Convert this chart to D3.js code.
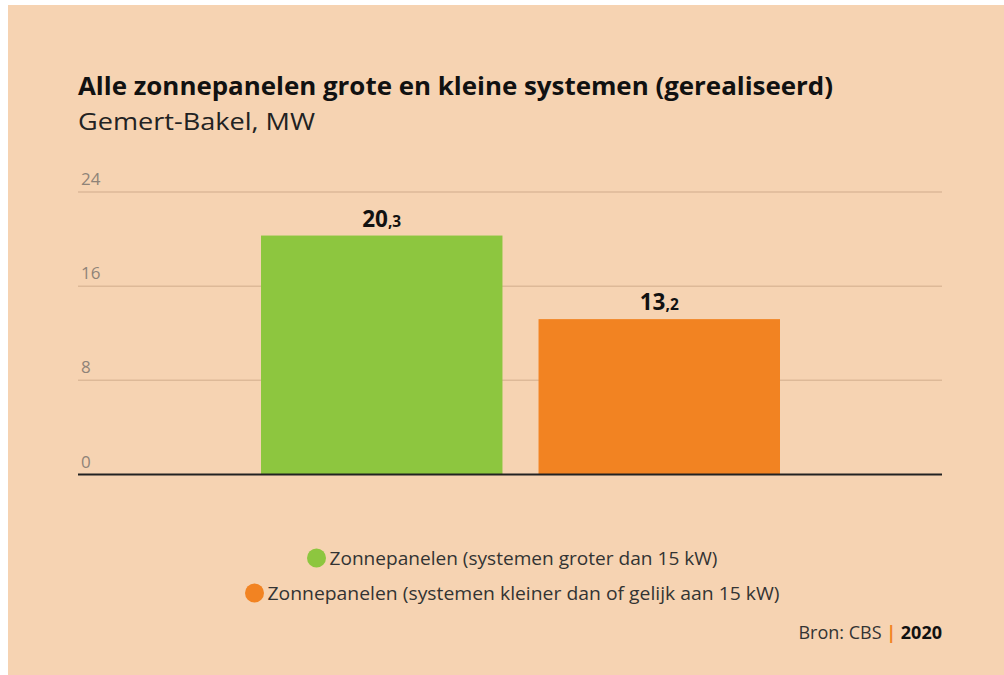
<!DOCTYPE html>
<html><head><meta charset="utf-8">
<script src="https://cdn.jsdelivr.net/npm/d3@7"></script>
<style>
html,body{margin:0;padding:0;background:#fff;}
svg{display:block;font-family:"Open Sans","Noto Sans",sans-serif;}
</style></head>
<body>
<svg id="chart" width="1004" height="675"></svg>
<script>
const categories = ["Zonnepanelen (systemen groter dan 15 kW)", "Zonnepanelen (systemen kleiner dan of gelijk aan 15 kW)"];
const values = [20.3, 13.2];
const colors = ["#8DC63F", "#F28322"];
const yTicks = [0, 8, 16, 24];
const title = "Alle zonnepanelen grote en kleine systemen (gerealiseerd)";
const subtitle = "Gemert-Bakel, MW";
const source = "Bron: CBS";
const year = "2020";

const svg = d3.select("#chart");
svg.append("rect").attr("x", 8).attr("y", 5).attr("width", 996).attr("height", 670).attr("fill", "#F6D3B2");

function fit(sel, w) {
  const cur = sel.node().getComputedTextLength();
  if (Math.abs(cur - w) > 1) sel.attr("textLength", w).attr("lengthAdjust", "spacingAndGlyphs");
  return sel;
}

fit(svg.append("text").attr("x", 78).attr("y", 95).attr("font-size", 25).attr("font-weight", 700)
  .attr("fill", "#111").text(title), 755);
fit(svg.append("text").attr("x", 78).attr("y", 130).attr("font-size", 23).attr("fill", "#222").text(subtitle), 237);

const left = 78, right = 942;
const y = d3.scaleLinear().domain([0, 24]).range([474.5, 192]);
const x = d3.scaleBand().domain(categories).range([261, 780]).paddingInner(0.13).paddingOuter(0);

const grid = svg.append("g");
grid.selectAll("line").data(yTicks.filter(d => d !== 0)).join("line")
  .attr("x1", left).attr("x2", right).attr("y1", d => y(d)).attr("y2", d => y(d))
  .attr("stroke", "#DDB998").attr("stroke-width", 1.5);
grid.selectAll("text").data(yTicks).join("text")
  .attr("x", 81).attr("y", d => y(d) - 7).attr("font-size", 17).attr("fill", "#8f8378").text(d => d);

svg.append("g").selectAll("rect").data(values).join("rect")
  .attr("x", (d, i) => x(categories[i])).attr("width", x.bandwidth())
  .attr("y", d => y(d)).attr("height", d => y(0) - y(d))
  .attr("fill", (d, i) => colors[i]);

svg.append("line").attr("x1", left).attr("x2", right).attr("y1", y(0)).attr("y2", y(0))
  .attr("stroke", "#222").attr("stroke-width", 2);

const lab = svg.append("g").selectAll("text").data(values).join("text")
  .attr("x", (d, i) => x(categories[i]) + x.bandwidth() / 2).attr("y", d => y(d) - 9)
  .attr("text-anchor", "middle").attr("font-weight", 700).attr("fill", "#111");
lab.append("tspan").attr("font-size", 22.5).text(d => Math.floor(d));
lab.append("tspan").attr("font-size", 15.5).text(d => "," + Math.round((d % 1) * 10));

const legend = svg.append("g");
const ly = [558, 593];
const lw = [388, 512];
categories.forEach((c, i) => {
  const g = legend.append("g");
  const t = g.append("text").attr("y", ly[i] + 7).attr("font-size", 19).attr("fill", "#333").text(c);
  fit(t, lw[i]);
  const cx = 507 - (lw[i] + 13) / 2 + 1;
  g.append("circle").attr("cx", cx + 9).attr("cy", ly[i]).attr("r", 9.5).attr("fill", colors[i]);
  t.attr("x", cx + 22);
});

const src = svg.append("text").attr("x", right).attr("y", 639).attr("text-anchor", "end").attr("font-size", 18).attr("fill", "#333");
src.append("tspan").text(source + " ");
src.append("tspan").attr("fill", "#F28322").attr("font-weight", 700).text("|");
src.append("tspan").attr("font-weight", 700).attr("fill", "#111").text(" " + year);
</script>
</body></html>
